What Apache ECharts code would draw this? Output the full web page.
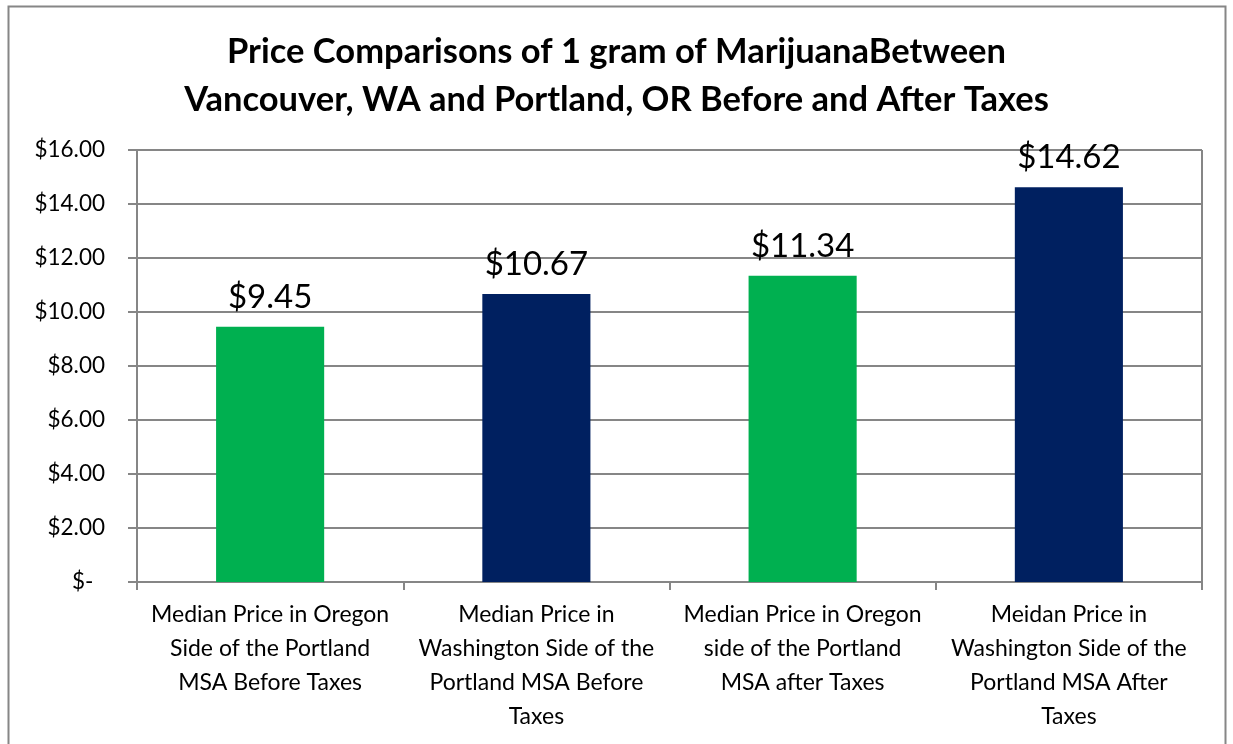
<!DOCTYPE html>
<html>
<head>
<meta charset="utf-8">
<script src="https://cdn.jsdelivr.net/npm/echarts@6/dist/echarts.min.js"></script>
<style>
  html, body { margin: 0; padding: 0; background: #fff; }
  #chart { width: 1233px; height: 744px; }
</style>
</head>
<body>
<div id="chart"></div>
<script>
var chart = echarts.init(document.getElementById('chart'));

var titleText = 'Price Comparisons of 1 gram of MarijuanaBetween\nVancouver, WA and Portland, OR Before and After Taxes';
var categories = [
    'Median Price in Oregon\nSide of the Portland\nMSA Before Taxes',
    'Median Price in\nWashington Side of the\nPortland MSA Before\nTaxes',
    'Median Price in Oregon\nside of the Portland\nMSA after Taxes',
    'Meidan Price in\nWashington Side of the\nPortland MSA After\nTaxes'
];
var prices = [9.45, 10.67, 11.34, 14.62];
var barColors = ['#00b050', '#002060', '#00b050', '#002060'];

var font = 'Lato, "Open Sans", sans-serif';
var gridColor = '#868686';

var barData = [];
for (var i = 0; i < prices.length; i++) {
    barData.push({ value: prices[i], itemStyle: { color: barColors[i] } });
}

var option = {
    backgroundColor: '#fff',
    animation: false,
    title: {
        text: titleText,
        left: 'center',
        top: 23,
        textStyle: {
            fontFamily: font,
            fontSize: 34.5,
            fontWeight: 'bold',
            color: '#000',
            lineHeight: 48
        }
    },
    graphic: [{
        type: 'rect',
        shape: { x: 8.5, y: 6.5, width: 1217, height: 760 },
        style: { fill: 'none', stroke: gridColor, lineWidth: 2 },
        silent: true
    }],
    grid: {
        left: 137,
        right: 31,
        top: 150,
        bottom: 162
    },
    xAxis: {
        type: 'category',
        data: categories,
        axisLine: { lineStyle: { color: gridColor, width: 2 } },
        axisTick: { show: true, length: 8, lineStyle: { color: gridColor, width: 2 } },
        splitLine: {
            show: true,
            interval: function (index) { return index === 2; },
            lineStyle: { color: gridColor, width: 2 }
        },
        axisLabel: {
            interval: 0,
            margin: 16,
            fontFamily: font,
            fontSize: 23,
            lineHeight: 34,
            color: '#000',
            align: 'center'
        }
    },
    yAxis: {
        type: 'value',
        min: 0,
        max: 16,
        interval: 2,
        axisLine: { show: true, lineStyle: { color: gridColor, width: 2 } },
        axisTick: { show: true, length: 9, lineStyle: { color: gridColor, width: 2 } },
        splitLine: { lineStyle: { color: gridColor, width: 2 } },
        axisLabel: {
            margin: 32,
            fontFamily: font,
            fontSize: 22.5,
            color: '#000',
            formatter: function (v) {
                return v === 0 ? '$-  ' : '$' + v.toFixed(2);
            }
        }
    },
    series: [{
        type: 'bar',
        data: barData,
        barWidth: '40.6%',
        label: {
            show: true,
            position: 'top',
            distance: 13,
            fontFamily: font,
            fontSize: 33,
            color: '#000',
            formatter: function (p) { return '$' + p.value.toFixed(2); }
        }
    }]
};

chart.setOption(option);
</script>
</body>
</html>
